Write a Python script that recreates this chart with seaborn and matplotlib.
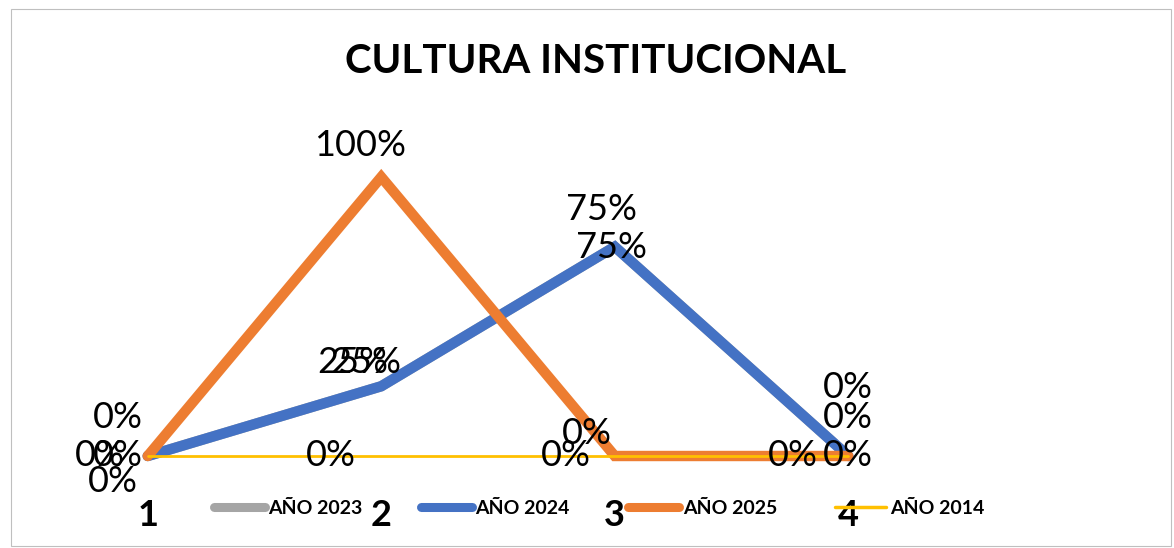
import matplotlib
matplotlib.use('Agg')
import matplotlib.pyplot as plt
import seaborn as sns
import pandas as pd
from matplotlib.patches import Rectangle

categories = [1, 2, 3, 4]
series_names = ['AÑO 2023', 'AÑO 2024', 'AÑO 2025', 'AÑO 2014']
values_2023 = [0.0, 0.25, 0.75, 0.0]
values_2024 = [0.0, 0.25, 0.75, 0.0]
values_2025 = [0.0, 1.0, 0.0, 0.0]
values_2014 = [0.0, 0.0, 0.0, 0.0]

colors = ['#A5A5A5', '#4472C4', '#ED7D31', '#FFC000']
widths = [7.5, 7.5, 7.5, 2]
# data label offsets in pixels (dx, dy), y up
label_offsets = [
    [(-30, 38), (-28, 24), (-13, 37), (0, 68)],
    [(-48, 0), (-15, 24), (-3, -1), (0, 38)],
    [(-30, 0), (-21, 32), (-28, 23), (0, 0)],
    [(-35, -25), (-50, 0), (-49, 0), (-55, 0)],
]

df = pd.DataFrame({
    'x': categories * 4,
    'y': values_2023 + values_2024 + values_2025 + values_2014,
    'serie': sum([[n] * 4 for n in series_names], []),
})

sns.set_style('white')
plt.rcParams['font.family'] = ['Lato', 'DejaVu Sans']
plt.rcParams['text.color'] = 'black'
plt.rcParams['xtick.color'] = 'black'

fig = plt.figure(figsize=(11.74, 5.48), dpi=100)
ax = fig.add_axes([31 / 1174, (548 - 456) / 548, (965 - 31) / 1174, (456 - 177) / 548])

for i, name in enumerate(series_names):
    sub = df[df['serie'] == name]
    sns.lineplot(data=sub, x='x', y='y', color=colors[i], linewidth=widths[i],
                 ax=ax, label=name, solid_capstyle='round', solid_joinstyle='miter',
                 clip_on=False)
    for (xv, yv), (dx, dy) in zip(zip(sub['x'], sub['y']), label_offsets[i]):
        ax.annotate(f'{yv:.0%}', (xv, yv), xytext=(dx, dy), textcoords='offset pixels',
                    ha='center', va='center', fontsize=26, color='black',
                    annotation_clip=False)

ax.set_xlim(0.5, 4.5)
ax.set_ylim(0, 1)
ax.set_xticks(categories)
ax.set_xticklabels([str(c) for c in categories], fontsize=26, fontweight='bold',
                   color='black')
ax.tick_params(axis='x', length=0, pad=31)
ax.set_yticks([])
ax.set_xlabel('')
ax.set_ylabel('')
for s in ax.spines.values():
    s.set_visible(False)

fig.text(596 / 1174, 1 - 61 / 548, 'CULTURA INSTITUCIONAL', ha='center', va='center',
         fontsize=29, fontweight='bold', color='black')

leg = ax.legend(loc='center', bbox_to_anchor=(599 / 1174, 1 - 508 / 548),
                bbox_transform=fig.transFigure, ncol=4, frameon=False,
                handlelength=2.6, handletextpad=0.2, columnspacing=3.0,
                prop={'weight': 'bold', 'size': 14})
for h, w in zip(leg.get_lines(), widths):
    h.set_linewidth(6.5 if w > 2 else 2.5)
    h.set_solid_capstyle('round')
for t in leg.get_texts():
    t.set_color('black')

fig.patches.append(Rectangle((11 / 1174, 2 / 548), 1160 / 1174, 537 / 548,
                             transform=fig.transFigure, fill=False,
                             edgecolor='#BFBFBF', linewidth=0.8))

fig.savefig('out.png', dpi=100)
